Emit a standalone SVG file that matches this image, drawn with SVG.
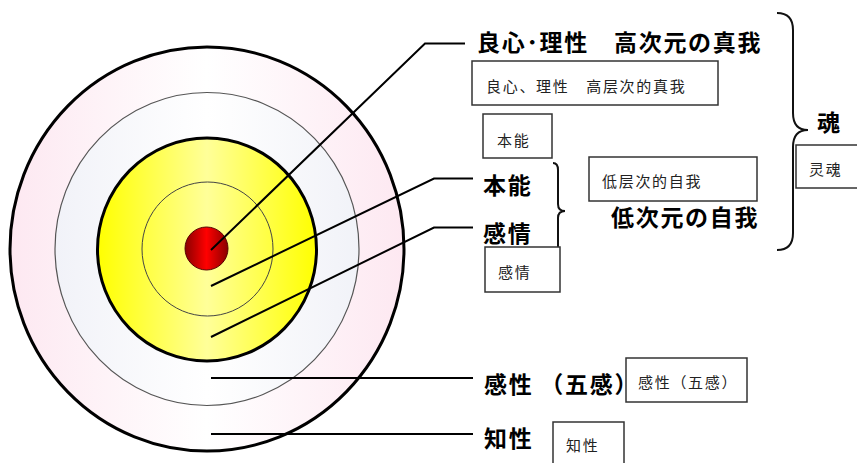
<svg xmlns="http://www.w3.org/2000/svg" width="857" height="463" viewBox="0 0 857 463">
<style>
.big{font-family:"Noto Sans CJK JP","Noto Sans CJK SC",sans-serif;font-weight:700;font-size:23px;letter-spacing:1.7px;fill:#000}
.sm{font-family:"Noto Sans CJK SC","Noto Sans CJK JP",sans-serif;font-size:15px;letter-spacing:1.7px;fill:#222}
.box{fill:#fff;stroke:#333;stroke-width:1.5}
.ln{fill:none;stroke:#000;stroke-width:2}
.brace{fill:none;stroke:#111;stroke-width:2}
</style>
<defs>
<linearGradient id="gPink" x1="0" y1="0" x2="1" y2="0">
<stop offset="0" stop-color="#fde8f1"/><stop offset="0.5" stop-color="#ffffff"/><stop offset="1" stop-color="#fde8f1"/>
</linearGradient>
<linearGradient id="gBlue" x1="0" y1="0" x2="1" y2="0">
<stop offset="0" stop-color="#f1f2f8"/><stop offset="0.5" stop-color="#ffffff"/><stop offset="1" stop-color="#f1f2f8"/>
</linearGradient>
<linearGradient id="gYel" x1="0" y1="0" x2="1" y2="0">
<stop offset="0" stop-color="#ffff00"/><stop offset="0.5" stop-color="#ffff99"/><stop offset="1" stop-color="#ffff00"/>
</linearGradient>
<linearGradient id="gRed" x1="0" y1="0" x2="1" y2="0">
<stop offset="0" stop-color="#8a0000"/><stop offset="0.5" stop-color="#ff0000"/><stop offset="1" stop-color="#8a0000"/>
</linearGradient>
</defs>
<rect width="857" height="463" fill="#fff"/>
<g id="target">
<ellipse cx="207" cy="249" rx="197" ry="202" fill="url(#gPink)" stroke="#000" stroke-width="3"/>
<ellipse cx="207" cy="249" rx="152" ry="156.5" fill="url(#gBlue)" stroke="#555" stroke-width="1.2"/>
<ellipse cx="207" cy="249.5" rx="109.5" ry="111.5" fill="url(#gYel)" stroke="#000" stroke-width="3"/>
<ellipse cx="207.5" cy="249" rx="65.5" ry="67" fill="none" stroke="#444" stroke-width="1"/>
<circle cx="206.5" cy="248.5" r="21.5" fill="url(#gRed)" stroke="#500" stroke-width="1"/>
</g>
<g id="connectors">
<polyline class="ln" points="211,250 425,43.5 465,43.5"/>
<polyline class="ln" points="211,286 434,178.5 473,178.5"/>
<polyline class="ln" points="211,337 434,227.5 473,227.5"/>
<line class="ln" x1="211" y1="378" x2="473" y2="378"/>
<line class="ln" x1="211" y1="434" x2="473" y2="434"/>
</g>
<g id="braces">
<path class="brace" d="M553,163 Q558,163 558,170 L558,204 Q558,211 565,211 Q558,211 558,218 L558,252 Q558,259 553,259"/>
<path class="brace" d="M777,13 Q793,13 793,30 L793,113 Q793,130 808,130 Q793,130 793,147 L793,233 Q793,250 777,250"/>
</g>
<g id="node-conscience">
<text class="big" x="477" y="50.5">良心･理性</text>
<text class="big" x="614" y="50.5">高次元の真我</text>
<rect class="box" x="472" y="61" width="246" height="44"/>
<text class="sm" x="486" y="91.5">良心、理性　高层次的真我</text>
</g>
<g id="node-instinct">
<rect class="box" x="483" y="114" width="69" height="44"/>
<text class="sm" x="497" y="146">本能</text>
<text class="big" x="483" y="193.5">本能</text>
</g>
<g id="node-lower-self">
<rect class="box" x="589" y="157" width="168" height="44"/>
<text class="sm" x="602" y="187">低层次的自我</text>
<text class="big" x="611" y="225.5">低次元の自我</text>
</g>
<g id="node-soul">
<text class="big" x="817" y="130.5">魂</text>
<rect class="box" x="796" y="145" width="70" height="43"/>
<text class="sm" x="809" y="175">灵魂</text>
</g>
<g id="node-emotion">
<text class="big" x="483" y="241.5">感情</text>
<rect class="box" x="485" y="247" width="75" height="45"/>
<text class="sm" x="498" y="278">感情</text>
</g>
<g id="node-sensibility">
<text class="big" x="484" y="392.5">感性 （五感）</text>
<rect class="box" x="626" y="358" width="121" height="44"/>
<text class="sm" x="638" y="388">感性（五感）</text>
</g>
<g id="node-intellect">
<text class="big" x="484" y="446.5">知性</text>
<rect class="box" x="553" y="422" width="71" height="50"/>
<text class="sm" x="566" y="451">知性</text>
</g>
</svg>
